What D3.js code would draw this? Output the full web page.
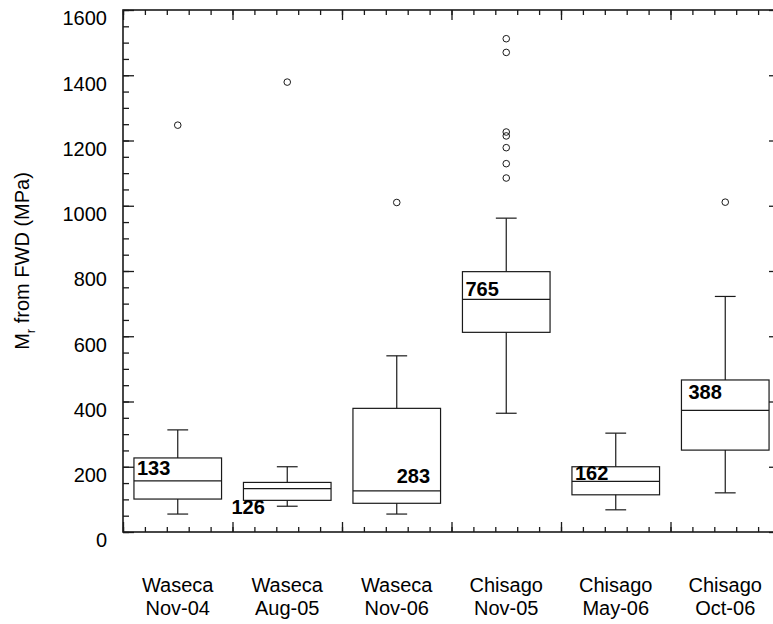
<!DOCTYPE html>
<html>
<head>
<meta charset="utf-8">
<script src="https://cdn.jsdelivr.net/npm/d3@7"></script>
<style>
	body { margin: 0; background: #fff; }
	svg { display: block; font-family: Arial, 'Liberation Sans', sans-serif; }
</style>
</head>
<body>
<svg></svg>
<script>
const width = 773;
const height = 624;

// data (MPa)
const sites = ['Waseca', 'Waseca', 'Waseca', 'Chisago', 'Chisago', 'Chisago'];
const dates = ['Nov-04', 'Aug-05', 'Nov-06', 'Nov-05', 'May-06', 'Oct-06'];
const whiskerLow = [55, 79, 55, 364, 68, 120];
const q1 = [101, 97, 88, 612, 114, 251];
const median = [157, 133, 126, 713, 155, 373];
const q3 = [227, 152, 379, 798, 200, 466];
const whiskerHigh = [313, 200, 540, 962, 303, 722];
const outliers = [[1247], [1379], [1010], [1512, 1470, 1226, 1214, 1178, 1129, 1085], [], [1011]];
const meanLabels = [133, 126, 283, 765, 162, 388];
// where each number sits: value of its baseline, and which edge it hangs from
const labelAt = [175, 55, 149, 723, 159, 408];
const labelSide = ['box', 'outside', 'center', 'box', 'box', 'box'];

const majorTicks = d3.range(0, 1601, 200);
const minorTicks = d3.range(0, 1601, 50);

const plot = { left: 123, right: 780, top: 10, bottom: 532 };

const svg = d3.select('svg').attr('width', width).attr('height', height);

const y = d3.scaleLinear().domain([0, 1600]).range([plot.bottom, plot.top]);
const x = d3
	.scaleBand()
	.domain(d3.range(dates.length))
	.range([plot.left, plot.right])
	.padding(0);
// continuous scale for the sub-divided category axis ticks
const xt = d3.scaleLinear().domain([0, dates.length]).range([plot.left, plot.right]);

const bw = x.bandwidth();
const boxW = bw * 0.8;
const capW = bw * 0.19;

const ink = '#1a1a1a';

// axes, minor ticks first
function addAxis(axis, tx, ty) {
	const g = svg.append('g').attr('transform', `translate(${tx},${ty})`).call(axis);
	g.select('.domain').remove();
	g.selectAll('line').attr('stroke', ink).attr('stroke-width', 1.3);
	return g;
}

addAxis(d3.axisLeft(y).tickValues(minorTicks).tickSize(-6).tickFormat(''), plot.left, 0);
addAxis(d3.axisRight(y).tickValues(minorTicks).tickSize(-6).tickFormat(''), plot.right, 0);
const yAxis = addAxis(
	d3.axisLeft(y).tickValues(majorTicks).tickSize(-11).tickPadding(16).tickFormat(d3.format('d')),
	plot.left,
	0
);
yAxis
	.selectAll('text')
	.attr('dy', '0.74em')
	.attr('fill', '#000')
	.style('font-size', '20px')
	.style('font-family', "Arial, 'Liberation Sans', sans-serif");
addAxis(d3.axisRight(y).tickValues(majorTicks).tickSize(-11).tickFormat(''), plot.right, 0);

const minorX = d3.range(0, dates.length * 5 + 1).map((d) => d / 5);
const majorX = d3.range(0, dates.length + 1);
addAxis(d3.axisBottom(xt).tickValues(minorX).tickSize(-5).tickFormat(''), 0, plot.bottom);
addAxis(d3.axisBottom(xt).tickValues(majorX).tickSize(-10).tickFormat(''), 0, plot.bottom);
addAxis(d3.axisTop(xt).tickValues(minorX).tickSize(-5).tickFormat(''), 0, plot.top);
addAxis(d3.axisTop(xt).tickValues(majorX).tickSize(-10).tickFormat(''), 0, plot.top);

// frame
svg
	.append('rect')
	.attr('x', plot.left)
	.attr('y', plot.top)
	.attr('width', plot.right - plot.left)
	.attr('height', plot.bottom - plot.top)
	.attr('fill', 'none')
	.attr('stroke', ink)
	.attr('stroke-width', 1.6);

// category labels
const cat = svg
	.append('g')
	.selectAll('text')
	.data(dates)
	.enter()
	.append('text')
	.attr('text-anchor', 'middle')
	.attr('fill', '#000')
	.style('font-size', '20px');
cat
	.append('tspan')
	.attr('x', (d, i) => x(i) + bw / 2)
	.attr('y', 592)
	.text((d, i) => sites[i]);
cat
	.append('tspan')
	.attr('x', (d, i) => x(i) + bw / 2)
	.attr('y', 614.5)
	.text((d) => d);

// y title
const title = svg
	.append('text')
	.attr('transform', `translate(29,${(plot.top + plot.bottom) / 2 - 10}) rotate(-90)`)
	.attr('text-anchor', 'middle')
	.attr('fill', '#000')
	.style('font-size', '20px');
title.append('tspan').text('M');
title.append('tspan').attr('dy', 6).style('font-size', '13px').text('r');
title.append('tspan').attr('dy', -6).text(' from FWD (MPa)');

// boxes
const boxes = svg
	.append('g')
	.selectAll('g')
	.data(dates)
	.enter()
	.append('g')
	.attr('stroke', ink)
	.attr('stroke-width', 1.2)
	.attr('fill', 'none');

boxes
	.append('line')
	.attr('x1', (d, i) => x(i) + bw / 2)
	.attr('x2', (d, i) => x(i) + bw / 2)
	.attr('y1', (d, i) => y(q3[i]))
	.attr('y2', (d, i) => y(whiskerHigh[i]));
boxes
	.append('line')
	.attr('x1', (d, i) => x(i) + bw / 2)
	.attr('x2', (d, i) => x(i) + bw / 2)
	.attr('y1', (d, i) => y(q1[i]))
	.attr('y2', (d, i) => y(whiskerLow[i]));
boxes
	.append('line')
	.attr('x1', (d, i) => x(i) + bw / 2 - capW / 2)
	.attr('x2', (d, i) => x(i) + bw / 2 + capW / 2)
	.attr('y1', (d, i) => y(whiskerHigh[i]))
	.attr('y2', (d, i) => y(whiskerHigh[i]));
boxes
	.append('line')
	.attr('x1', (d, i) => x(i) + bw / 2 - capW / 2)
	.attr('x2', (d, i) => x(i) + bw / 2 + capW / 2)
	.attr('y1', (d, i) => y(whiskerLow[i]))
	.attr('y2', (d, i) => y(whiskerLow[i]));
boxes
	.append('rect')
	.attr('x', (d, i) => x(i) + (bw - boxW) / 2)
	.attr('width', boxW)
	.attr('y', (d, i) => y(q3[i]))
	.attr('height', (d, i) => y(q1[i]) - y(q3[i]));
boxes
	.append('line')
	.attr('x1', (d, i) => x(i) + (bw - boxW) / 2)
	.attr('x2', (d, i) => x(i) + (bw + boxW) / 2)
	.attr('y1', (d, i) => y(median[i]))
	.attr('y2', (d, i) => y(median[i]));

boxes
	.selectAll('circle')
	.data((d, i) => outliers[i].map((v) => ({ v, i })))
	.enter()
	.append('circle')
	.attr('cx', (d) => x(d.i) + bw / 2)
	.attr('cy', (d) => y(d.v))
	.attr('r', 3.3)
	.attr('stroke-width', 1);

// numbers on the boxes
svg
	.append('g')
	.selectAll('text')
	.data(meanLabels)
	.enter()
	.append('text')
	.attr('x', (d, i) => {
		const boxLeft = x(i) + (bw - boxW) / 2;
		if (labelSide[i] === 'outside') return boxLeft - 12;
		if (labelSide[i] === 'center') return x(i) + bw / 2;
		return boxLeft + (i === 5 ? 7 : 3);
	})
	.attr('y', (d, i) => y(labelAt[i]))
	.attr('fill', '#000')
	.style('font-size', '20px')
	.style('font-weight', 'bold')
	.text((d) => d);
</script>
</body>
</html>
